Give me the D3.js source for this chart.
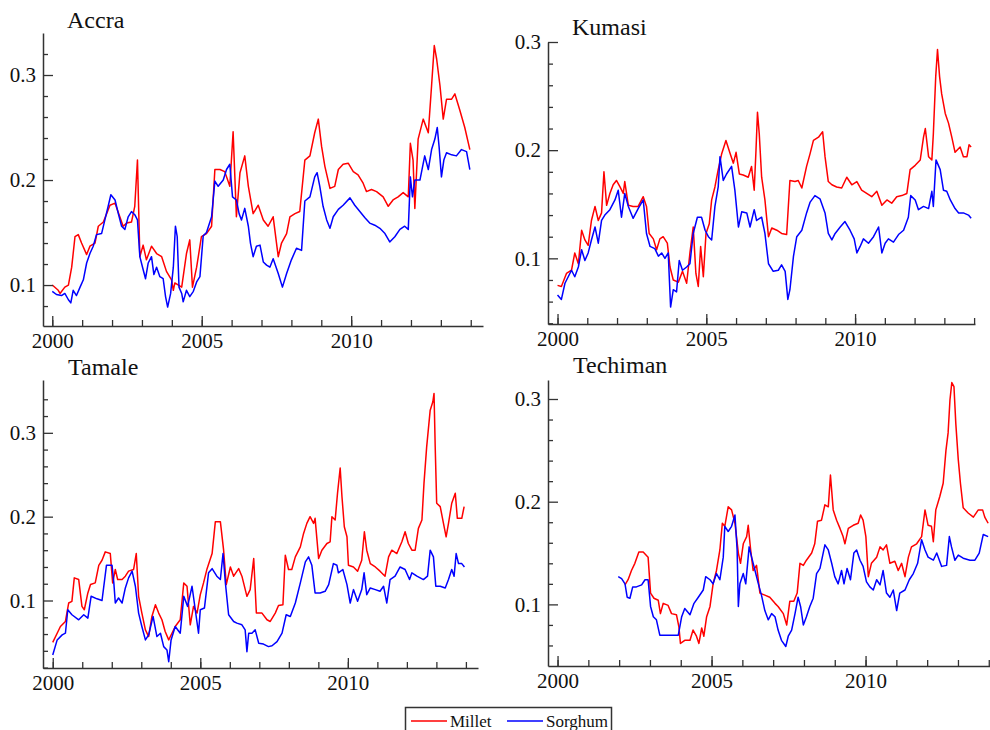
<!DOCTYPE html>
<html>
<head>
<meta charset="utf-8">
<script src="https://cdn.jsdelivr.net/npm/d3@7"></script>
<style>
  body { margin: 0; background: #fff; }
  svg { display: block; font-family: "Liberation Serif", "Times New Roman", serif; }
</style>
</head>
<body>
<script>
// Data: [year, price], one array per market and grain

var accraMillet = [[2000.00,0.100],[2000.20,0.095],[2000.26,0.092],[2000.42,0.098],[2000.54,0.100],[2000.65,0.117],[2000.76,0.146],[2000.87,0.148],[2000.98,0.140],[2001.15,0.129],[2001.26,0.137],[2001.43,0.140],[2001.54,0.156],[2001.71,0.160],[2001.82,0.168],[2001.93,0.176],[2002.10,0.178],[2002.26,0.165],[2002.37,0.156],[2002.49,0.159],[2002.65,0.160],[2002.76,0.175],[2002.85,0.219],[2002.93,0.127],[2003.04,0.138],[2003.15,0.124],[2003.32,0.137],[2003.49,0.130],[2003.66,0.127],[2003.82,0.113],[2003.99,0.105],[2004.05,0.095],[2004.10,0.102],[2004.33,0.098],[2004.49,0.130],[2004.60,0.143],[2004.69,0.098],[2004.83,0.117],[2004.99,0.146],[2005.16,0.149],[2005.33,0.156],[2005.44,0.210],[2005.61,0.210],[2005.77,0.208],[2005.94,0.194],[2006.05,0.246],[2006.16,0.165],[2006.28,0.207],[2006.44,0.223],[2006.56,0.194],[2006.72,0.168],[2006.89,0.176],[2007.06,0.162],[2007.22,0.156],[2007.39,0.165],[2007.56,0.127],[2007.67,0.140],[2007.84,0.149],[2007.95,0.165],[2008.12,0.168],[2008.28,0.170],[2008.45,0.219],[2008.62,0.223],[2008.78,0.245],[2008.90,0.258],[2009.01,0.232],[2009.12,0.213],[2009.29,0.192],[2009.45,0.194],[2009.57,0.210],[2009.73,0.215],[2009.90,0.216],[2010.07,0.208],[2010.23,0.205],[2010.40,0.197],[2010.51,0.189],[2010.68,0.191],[2010.85,0.189],[2011.07,0.184],[2011.24,0.175],[2011.40,0.181],[2011.57,0.184],[2011.74,0.188],[2011.91,0.184],[2011.98,0.235],[2012.07,0.219],[2012.13,0.173],[2012.24,0.239],[2012.41,0.258],[2012.58,0.245],[2012.69,0.290],[2012.78,0.328],[2012.86,0.315],[2012.97,0.290],[2013.08,0.258],[2013.19,0.277],[2013.36,0.277],[2013.47,0.282],[2013.63,0.267],[2013.80,0.250],[2013.97,0.229]];

var accraSorghum = [[2000.00,0.094],[2000.14,0.091],[2000.31,0.090],[2000.42,0.092],[2000.54,0.086],[2000.62,0.083],[2000.70,0.095],[2000.81,0.090],[2000.93,0.098],[2001.04,0.105],[2001.15,0.121],[2001.26,0.130],[2001.37,0.137],[2001.48,0.148],[2001.65,0.149],[2001.76,0.162],[2001.87,0.175],[2001.96,0.186],[2002.10,0.181],[2002.21,0.168],[2002.32,0.156],[2002.43,0.153],[2002.54,0.165],[2002.65,0.170],[2002.76,0.167],[2002.85,0.162],[2002.93,0.127],[2003.02,0.117],[2003.12,0.106],[2003.21,0.121],[2003.32,0.127],[2003.40,0.110],[2003.49,0.117],[2003.60,0.108],[2003.71,0.106],[2003.79,0.089],[2003.86,0.079],[2003.96,0.092],[2004.05,0.117],[2004.12,0.156],[2004.18,0.146],[2004.24,0.098],[2004.33,0.092],[2004.38,0.084],[2004.49,0.095],[2004.60,0.089],[2004.72,0.094],[2004.83,0.103],[2004.94,0.108],[2005.05,0.147],[2005.16,0.150],[2005.33,0.165],[2005.44,0.199],[2005.55,0.194],[2005.72,0.200],[2005.83,0.210],[2005.94,0.215],[2006.03,0.184],[2006.16,0.181],[2006.25,0.168],[2006.33,0.162],[2006.44,0.173],[2006.56,0.156],[2006.63,0.140],[2006.72,0.127],[2006.83,0.137],[2006.95,0.138],[2007.06,0.122],[2007.17,0.119],[2007.28,0.117],[2007.39,0.125],[2007.56,0.111],[2007.70,0.098],[2007.84,0.111],[2008.00,0.124],[2008.17,0.135],[2008.34,0.133],[2008.45,0.180],[2008.62,0.184],[2008.78,0.203],[2008.86,0.207],[2008.95,0.194],[2009.06,0.175],[2009.18,0.162],[2009.29,0.154],[2009.40,0.165],[2009.57,0.172],[2009.73,0.176],[2009.96,0.183],[2010.12,0.176],[2010.29,0.170],[2010.46,0.164],[2010.62,0.159],[2010.79,0.157],[2010.96,0.154],[2011.13,0.149],[2011.29,0.141],[2011.46,0.146],[2011.63,0.153],[2011.79,0.156],[2011.91,0.153],[2011.98,0.203],[2012.05,0.184],[2012.13,0.200],[2012.30,0.200],[2012.46,0.223],[2012.58,0.210],[2012.69,0.229],[2012.80,0.239],[2012.88,0.250],[2012.94,0.232],[2013.02,0.203],[2013.10,0.219],[2013.19,0.226],[2013.36,0.224],[2013.52,0.223],[2013.69,0.229],[2013.86,0.227],[2013.97,0.210]];

var kumasiMillet = [[2000.00,0.075],[2000.13,0.074],[2000.30,0.086],[2000.47,0.089],[2000.58,0.105],[2000.70,0.095],[2000.81,0.126],[2000.92,0.117],[2001.03,0.112],[2001.14,0.135],[2001.26,0.148],[2001.37,0.135],[2001.48,0.142],[2001.56,0.180],[2001.65,0.149],[2001.76,0.160],[2001.87,0.168],[2001.98,0.172],[2002.10,0.166],[2002.21,0.160],[2002.26,0.171],[2002.38,0.149],[2002.54,0.148],[2002.71,0.148],[2002.88,0.157],[2002.99,0.148],[2003.08,0.123],[2003.22,0.118],[2003.33,0.108],[2003.44,0.118],[2003.55,0.120],[2003.69,0.114],[2003.78,0.092],[2003.89,0.080],[2004.06,0.078],[2004.20,0.088],[2004.34,0.077],[2004.45,0.105],[2004.56,0.129],[2004.65,0.086],[2004.73,0.074],[2004.81,0.111],[2004.90,0.083],[2004.99,0.123],[2005.10,0.132],[2005.18,0.154],[2005.29,0.166],[2005.40,0.182],[2005.52,0.197],[2005.66,0.209],[2005.80,0.197],[2005.91,0.188],[2006.00,0.198],[2006.11,0.178],[2006.24,0.177],[2006.41,0.175],[2006.52,0.185],[2006.61,0.163],[2006.67,0.200],[2006.72,0.235],[2006.78,0.215],[2006.86,0.175],[2006.97,0.154],[2007.09,0.120],[2007.20,0.128],[2007.37,0.126],[2007.53,0.123],[2007.70,0.122],[2007.81,0.172],[2007.98,0.171],[2008.09,0.172],[2008.21,0.165],[2008.37,0.185],[2008.49,0.197],[2008.60,0.209],[2008.77,0.212],[2008.91,0.217],[2008.99,0.194],[2009.10,0.171],[2009.22,0.168],[2009.38,0.166],[2009.55,0.165],[2009.72,0.175],[2009.89,0.168],[2010.06,0.171],[2010.22,0.163],[2010.39,0.160],[2010.56,0.157],[2010.73,0.162],[2010.90,0.149],[2011.07,0.154],[2011.23,0.151],[2011.40,0.157],[2011.57,0.158],[2011.74,0.160],[2011.85,0.182],[2012.02,0.186],[2012.19,0.191],[2012.30,0.212],[2012.36,0.220],[2012.47,0.194],[2012.58,0.191],[2012.63,0.215],[2012.71,0.268],[2012.77,0.293],[2012.84,0.268],[2012.91,0.252],[2013.03,0.234],[2013.14,0.225],[2013.25,0.212],[2013.36,0.198],[2013.53,0.203],[2013.64,0.194],[2013.76,0.194],[2013.83,0.205],[2013.90,0.203]];

var kumasiSorghum = [[2000.00,0.066],[2000.13,0.062],[2000.25,0.077],[2000.36,0.083],[2000.47,0.089],[2000.58,0.083],[2000.70,0.092],[2000.81,0.108],[2000.92,0.098],[2001.03,0.105],[2001.14,0.117],[2001.26,0.129],[2001.37,0.114],[2001.48,0.135],[2001.59,0.140],[2001.76,0.145],[2001.93,0.154],[2002.04,0.163],[2002.15,0.138],[2002.26,0.160],[2002.38,0.148],[2002.54,0.137],[2002.71,0.146],[2002.88,0.154],[2002.99,0.123],[2003.11,0.111],[2003.27,0.109],[2003.39,0.102],[2003.50,0.105],[2003.61,0.100],[2003.72,0.105],[2003.80,0.055],[2003.89,0.071],[2004.00,0.069],[2004.09,0.098],[2004.20,0.089],[2004.34,0.092],[2004.45,0.095],[2004.56,0.123],[2004.70,0.138],[2004.84,0.138],[2004.96,0.126],[2005.07,0.120],[2005.18,0.117],[2005.29,0.148],[2005.40,0.166],[2005.46,0.194],[2005.57,0.172],[2005.68,0.178],[2005.85,0.185],[2005.96,0.163],[2006.08,0.129],[2006.19,0.143],[2006.36,0.142],[2006.47,0.129],[2006.61,0.145],[2006.69,0.135],[2006.86,0.138],[2006.97,0.123],[2007.09,0.095],[2007.25,0.088],[2007.42,0.089],[2007.53,0.094],[2007.65,0.088],[2007.74,0.062],[2007.81,0.071],[2007.93,0.102],[2008.04,0.120],[2008.21,0.126],[2008.37,0.142],[2008.49,0.152],[2008.65,0.158],[2008.82,0.155],[2008.99,0.142],[2009.10,0.123],[2009.22,0.117],[2009.33,0.123],[2009.50,0.129],[2009.66,0.134],[2009.83,0.126],[2009.97,0.118],[2010.06,0.105],[2010.17,0.111],[2010.28,0.118],[2010.45,0.114],[2010.62,0.120],[2010.79,0.129],[2010.90,0.105],[2011.01,0.114],[2011.12,0.118],[2011.29,0.115],[2011.46,0.122],[2011.63,0.126],[2011.79,0.138],[2011.87,0.158],[2012.02,0.154],[2012.13,0.145],[2012.30,0.148],[2012.47,0.146],[2012.58,0.162],[2012.63,0.148],[2012.72,0.191],[2012.86,0.182],[2012.97,0.163],[2013.08,0.162],[2013.20,0.154],[2013.36,0.146],[2013.48,0.142],[2013.64,0.142],[2013.81,0.140],[2013.90,0.137]];

var tamaleMillet = [[2000.00,0.050],[2000.15,0.061],[2000.26,0.069],[2000.43,0.075],[2000.49,0.087],[2000.54,0.097],[2000.65,0.099],[2000.73,0.127],[2000.88,0.125],[2000.99,0.093],[2001.07,0.089],[2001.19,0.109],[2001.28,0.119],[2001.44,0.121],[2001.56,0.142],[2001.67,0.148],[2001.78,0.158],[2001.95,0.156],[2002.03,0.121],[2002.12,0.137],[2002.20,0.125],[2002.35,0.125],[2002.46,0.129],[2002.57,0.135],[2002.74,0.137],[2002.83,0.156],[2002.91,0.105],[2003.02,0.085],[2003.14,0.065],[2003.25,0.057],[2003.36,0.081],[2003.48,0.095],[2003.59,0.085],[2003.70,0.077],[2003.81,0.063],[2003.93,0.053],[2004.04,0.061],[2004.15,0.069],[2004.32,0.077],[2004.44,0.121],[2004.55,0.117],[2004.66,0.071],[2004.77,0.093],[2004.89,0.085],[2005.00,0.107],[2005.11,0.121],[2005.23,0.138],[2005.40,0.156],[2005.51,0.194],[2005.68,0.194],[2005.79,0.160],[2005.88,0.119],[2006.02,0.140],[2006.13,0.129],[2006.30,0.138],[2006.41,0.129],[2006.58,0.105],[2006.69,0.113],[2006.81,0.150],[2006.90,0.085],[2007.09,0.085],[2007.26,0.077],[2007.37,0.075],[2007.54,0.085],[2007.65,0.094],[2007.80,0.095],[2007.88,0.154],[2007.99,0.137],[2008.10,0.137],[2008.22,0.152],[2008.39,0.164],[2008.50,0.180],[2008.61,0.192],[2008.72,0.200],[2008.84,0.192],[2008.89,0.198],[2009.01,0.150],[2009.12,0.160],[2009.29,0.168],[2009.40,0.170],[2009.46,0.200],[2009.57,0.196],[2009.65,0.228],[2009.74,0.258],[2009.80,0.224],[2009.88,0.188],[2009.97,0.176],[2010.02,0.142],[2010.19,0.140],[2010.33,0.135],[2010.47,0.148],[2010.56,0.182],[2010.64,0.160],[2010.76,0.144],[2010.93,0.140],[2011.09,0.135],[2011.26,0.129],[2011.38,0.152],[2011.49,0.160],[2011.66,0.156],[2011.83,0.170],[2011.94,0.182],[2012.05,0.168],[2012.17,0.160],[2012.28,0.160],[2012.39,0.186],[2012.51,0.196],[2012.58,0.240],[2012.67,0.283],[2012.79,0.327],[2012.88,0.337],[2012.92,0.347],[2012.96,0.283],[2013.01,0.216],[2013.13,0.212],[2013.24,0.192],[2013.33,0.176],[2013.41,0.192],[2013.52,0.216],[2013.64,0.228],[2013.71,0.198],[2013.86,0.198],[2013.94,0.212]];

var tamaleSorghum = [[2000.00,0.035],[2000.15,0.053],[2000.32,0.059],[2000.43,0.061],[2000.51,0.089],[2000.65,0.083],[2000.88,0.077],[2001.05,0.083],[2001.19,0.079],[2001.30,0.105],[2001.50,0.102],[2001.67,0.100],[2001.82,0.142],[2002.01,0.142],[2002.07,0.121],[2002.12,0.097],[2002.23,0.103],[2002.35,0.097],[2002.46,0.115],[2002.57,0.127],[2002.69,0.135],[2002.80,0.117],[2002.91,0.085],[2003.02,0.069],[2003.14,0.053],[2003.25,0.059],[2003.40,0.081],[2003.53,0.057],[2003.65,0.061],[2003.76,0.045],[2003.87,0.041],[2003.93,0.027],[2004.01,0.053],[2004.15,0.069],[2004.32,0.061],[2004.44,0.105],[2004.57,0.093],[2004.72,0.117],[2004.83,0.089],[2004.94,0.061],[2005.00,0.089],[2005.14,0.091],[2005.28,0.133],[2005.40,0.138],[2005.56,0.129],[2005.68,0.125],[2005.77,0.156],[2005.85,0.121],[2005.96,0.083],[2006.13,0.075],[2006.24,0.073],[2006.41,0.071],[2006.52,0.065],[2006.58,0.039],[2006.64,0.061],[2006.75,0.061],[2006.86,0.065],[2006.98,0.049],[2007.14,0.048],[2007.31,0.045],[2007.43,0.046],[2007.60,0.051],[2007.77,0.061],[2007.91,0.083],[2008.05,0.081],[2008.22,0.097],[2008.39,0.121],[2008.56,0.146],[2008.67,0.152],[2008.78,0.142],[2008.89,0.109],[2009.06,0.109],[2009.23,0.111],[2009.35,0.119],[2009.51,0.144],[2009.63,0.142],[2009.68,0.133],[2009.83,0.137],[2009.97,0.119],[2010.08,0.097],[2010.19,0.113],[2010.33,0.099],[2010.47,0.113],[2010.55,0.133],[2010.64,0.107],[2010.76,0.115],[2010.93,0.113],[2011.09,0.111],[2011.21,0.117],[2011.32,0.097],[2011.43,0.125],[2011.60,0.129],[2011.77,0.140],[2011.94,0.137],[2012.09,0.125],[2012.17,0.133],[2012.34,0.129],[2012.56,0.125],[2012.70,0.129],[2012.79,0.160],[2012.90,0.152],[2012.98,0.117],[2013.13,0.117],[2013.30,0.115],[2013.41,0.125],[2013.52,0.137],[2013.60,0.129],[2013.67,0.156],[2013.75,0.144],[2013.86,0.144],[2013.95,0.140]];

var techimanMillet = [[2002.19,0.119],[2002.29,0.124],[2002.40,0.133],[2002.51,0.140],[2002.64,0.151],[2002.78,0.151],[2002.94,0.146],[2003.02,0.111],[2003.13,0.106],[2003.27,0.104],[2003.34,0.091],[2003.43,0.101],[2003.59,0.099],[2003.70,0.091],[2003.86,0.090],[2003.94,0.078],[2003.99,0.062],[2004.13,0.065],[2004.30,0.065],[2004.40,0.075],[2004.51,0.069],[2004.59,0.062],[2004.68,0.077],[2004.75,0.069],[2004.84,0.088],[2004.95,0.098],[2005.05,0.120],[2005.16,0.133],[2005.27,0.153],[2005.35,0.179],[2005.43,0.176],[2005.54,0.195],[2005.65,0.192],[2005.76,0.179],[2005.87,0.150],[2005.94,0.140],[2006.03,0.159],[2006.14,0.166],[2006.19,0.177],[2006.27,0.153],[2006.35,0.133],[2006.46,0.138],[2006.57,0.111],[2006.73,0.109],[2006.89,0.107],[2007.06,0.101],[2007.16,0.098],[2007.33,0.091],[2007.44,0.080],[2007.54,0.103],[2007.67,0.103],[2007.78,0.111],[2007.87,0.140],[2007.98,0.138],[2008.08,0.143],[2008.25,0.150],[2008.35,0.159],[2008.44,0.181],[2008.57,0.182],[2008.68,0.197],[2008.79,0.195],[2008.86,0.226],[2008.95,0.192],[2009.06,0.182],[2009.17,0.174],[2009.27,0.166],[2009.33,0.159],[2009.44,0.174],[2009.60,0.177],[2009.76,0.179],[2009.84,0.187],[2009.92,0.182],[2010.01,0.166],[2010.09,0.127],[2010.19,0.140],[2010.36,0.146],[2010.47,0.156],[2010.57,0.153],[2010.68,0.158],[2010.79,0.140],[2010.95,0.142],[2011.06,0.133],[2011.17,0.140],[2011.28,0.127],[2011.39,0.146],[2011.49,0.156],[2011.66,0.159],[2011.82,0.166],[2011.93,0.192],[2012.03,0.177],[2012.14,0.176],[2012.20,0.161],[2012.28,0.192],[2012.41,0.205],[2012.52,0.218],[2012.61,0.250],[2012.68,0.267],[2012.74,0.299],[2012.80,0.316],[2012.87,0.312],[2012.93,0.276],[2013.01,0.241],[2013.08,0.218],[2013.17,0.194],[2013.33,0.189],[2013.50,0.185],[2013.66,0.192],[2013.80,0.192],[2013.87,0.185],[2013.98,0.179]];

var techimanSorghum = [[2001.97,0.127],[2002.08,0.125],[2002.19,0.120],[2002.26,0.107],[2002.35,0.106],[2002.44,0.117],[2002.56,0.117],[2002.73,0.119],[2002.84,0.124],[2002.94,0.124],[2003.02,0.098],[2003.11,0.088],[2003.21,0.085],[2003.32,0.070],[2003.48,0.070],[2003.70,0.070],[2003.92,0.070],[2004.03,0.088],[2004.13,0.096],[2004.30,0.090],[2004.43,0.101],[2004.57,0.107],[2004.73,0.114],[2004.81,0.127],[2004.95,0.124],[2005.05,0.120],[2005.16,0.130],[2005.27,0.124],[2005.38,0.146],[2005.43,0.176],[2005.54,0.171],[2005.65,0.176],[2005.76,0.187],[2005.83,0.153],[2005.87,0.098],[2005.92,0.120],[2006.03,0.130],[2006.11,0.120],[2006.22,0.156],[2006.30,0.146],[2006.41,0.133],[2006.52,0.120],[2006.62,0.109],[2006.73,0.094],[2006.84,0.085],[2006.95,0.091],[2007.06,0.088],[2007.16,0.075],[2007.27,0.065],[2007.41,0.059],[2007.49,0.069],[2007.60,0.075],[2007.71,0.091],[2007.81,0.107],[2007.89,0.098],[2007.98,0.080],[2008.08,0.088],[2008.19,0.098],[2008.30,0.106],[2008.41,0.130],[2008.52,0.135],[2008.68,0.158],[2008.79,0.153],[2008.90,0.140],[2009.00,0.127],[2009.11,0.120],[2009.22,0.133],[2009.30,0.120],[2009.40,0.135],[2009.51,0.124],[2009.62,0.150],[2009.71,0.153],[2009.82,0.143],[2009.92,0.137],[2010.03,0.122],[2010.14,0.117],[2010.25,0.114],[2010.36,0.124],[2010.47,0.119],[2010.57,0.133],[2010.68,0.111],[2010.79,0.107],[2010.90,0.114],[2011.01,0.094],[2011.11,0.111],[2011.28,0.114],[2011.42,0.124],[2011.55,0.130],[2011.69,0.140],[2011.82,0.163],[2011.93,0.153],[2012.03,0.146],[2012.20,0.143],[2012.31,0.150],[2012.47,0.137],[2012.63,0.138],[2012.72,0.166],[2012.79,0.156],[2012.90,0.143],[2013.01,0.148],[2013.17,0.145],[2013.39,0.143],[2013.55,0.143],[2013.69,0.150],[2013.82,0.168],[2013.98,0.166]];

var seriesNames = ["Millet", "Sorghum"];
var xMajorTicks = [2000, 2005, 2010];
var xMinorTicks = d3.range(2000, 2015);
var yMajorTicks = [0.1, 0.2, 0.3];
var yMinorTicks = [0.02, 0.04, 0.06, 0.08, 0.12, 0.14, 0.16, 0.18, 0.22, 0.24, 0.26, 0.28, 0.32, 0.34];

// Layout
var width = 990, height = 730;
var colors = ["#ff0000", "#0000ff"];
var axisColor = "#333";
var textColor = "#111";

var panels = [
    {title: "Accra",    series: [accraMillet, accraSorghum],       box: {l: 43,  r: 483, t: 33,  b: 326}, xd: [1999.69, 2014.41], yd: [0.061, 0.340], tx: 67,  ty: 28},
    {title: "Kumasi",   series: [kumasiMillet, kumasiSorghum],     box: {l: 548, r: 975, t: 42,  b: 324}, xd: [1999.68, 2014.03], yd: [0.0393, 0.300], tx: 572, ty: 35},
    {title: "Tamale",   series: [tamaleMillet, tamaleSorghum],     box: {l: 43,  r: 478, t: 380, b: 668}, xd: [1999.67, 2014.41], yd: [0.0195, 0.363], tx: 68,  ty: 375},
    {title: "Techiman", series: [techimanMillet, techimanSorghum], box: {l: 548, r: 990, t: 380, b: 666}, xd: [1999.69, 2014.04], yd: [0.040, 0.3185], tx: 573, ty: 373}
];

var svg = d3.select("body").append("svg")
    .attr("width", width)
    .attr("height", height);

panels.forEach(function(p) {
    var x = d3.scaleLinear().domain(p.xd).range([p.box.l, p.box.r]);
    var y = d3.scaleLinear().domain(p.yd).range([p.box.b, p.box.t]);
    var g = svg.append("g");

    // Lines (millet first, sorghum on top)
    var line = d3.line()
        .x(function(d) { return x(d[0]); })
        .y(function(d) { return y(d[1]); });

    p.series.forEach(function(s, i) {
        g.append("path")
            .datum(s)
            .attr("d", line)
            .attr("fill", "none")
            .attr("stroke", colors[i])
            .attr("stroke-width", 1.5)
            .attr("stroke-linejoin", "round");
    });

    // X axis: minor ticks each year, labels on majors
    var xMinor = g.append("g")
        .attr("transform", "translate(0," + p.box.b + ")")
        .call(d3.axisBottom(x).tickValues(xMinorTicks).tickSize(-6).tickSizeOuter(0).tickFormat(""));
    xMinor.select(".domain").remove();

    var xMajor = g.append("g")
        .attr("transform", "translate(0," + p.box.b + ")")
        .call(d3.axisBottom(x).tickValues(xMajorTicks).tickSize(-10).tickSizeOuter(0).tickPadding(7).tickFormat(d3.format("d")));

    // Y axis
    var yMinor = g.append("g")
        .attr("transform", "translate(" + p.box.l + ",0)")
        .call(d3.axisLeft(y).tickValues(yMinorTicks.filter(function(v) { return v > p.yd[0] && v < p.yd[1]; }))
            .tickSize(-5).tickSizeOuter(0).tickFormat(""));
    yMinor.select(".domain").remove();

    var yMajor = g.append("g")
        .attr("transform", "translate(" + p.box.l + ",0)")
        .call(d3.axisLeft(y).tickValues(yMajorTicks).tickSize(-10).tickSizeOuter(0).tickPadding(7).tickFormat(d3.format(".1f")));

    [xMinor, xMajor, yMinor, yMajor].forEach(function(a) {
        a.selectAll("line").attr("stroke", axisColor).attr("stroke-width", 1.3);
        a.selectAll(".domain").attr("stroke", axisColor).attr("stroke-width", 1.5);
        a.selectAll("text")
            .attr("fill", textColor)
            .style("font-family", "'Liberation Serif', 'Times New Roman', serif")
            .style("font-size", "21px");
    });

    // Panel title
    g.append("text")
        .attr("x", p.tx)
        .attr("y", p.ty)
        .attr("fill", textColor)
        .style("font-size", "24px")
        .text(p.title);
});

// Legend
var legend = svg.append("g");
legend.append("rect")
    .attr("x", 405.5).attr("y", 707.5)
    .attr("width", 206).attr("height", 26)
    .attr("fill", "#fff")
    .attr("stroke", "#333")
    .attr("stroke-width", 1.5);

var legendItems = [{x: 411}, {x: 507}];
legendItems.forEach(function(item, i) {
    legend.append("line")
        .attr("x1", item.x).attr("x2", item.x + 36)
        .attr("y1", 721).attr("y2", 721)
        .attr("stroke", colors[i])
        .attr("stroke-width", 1.5);
    legend.append("text")
        .attr("x", item.x + 39)
        .attr("y", 727)
        .attr("fill", textColor)
        .style("font-size", "17px")
        .text(seriesNames[i]);
});
</script>
</body>
</html>
